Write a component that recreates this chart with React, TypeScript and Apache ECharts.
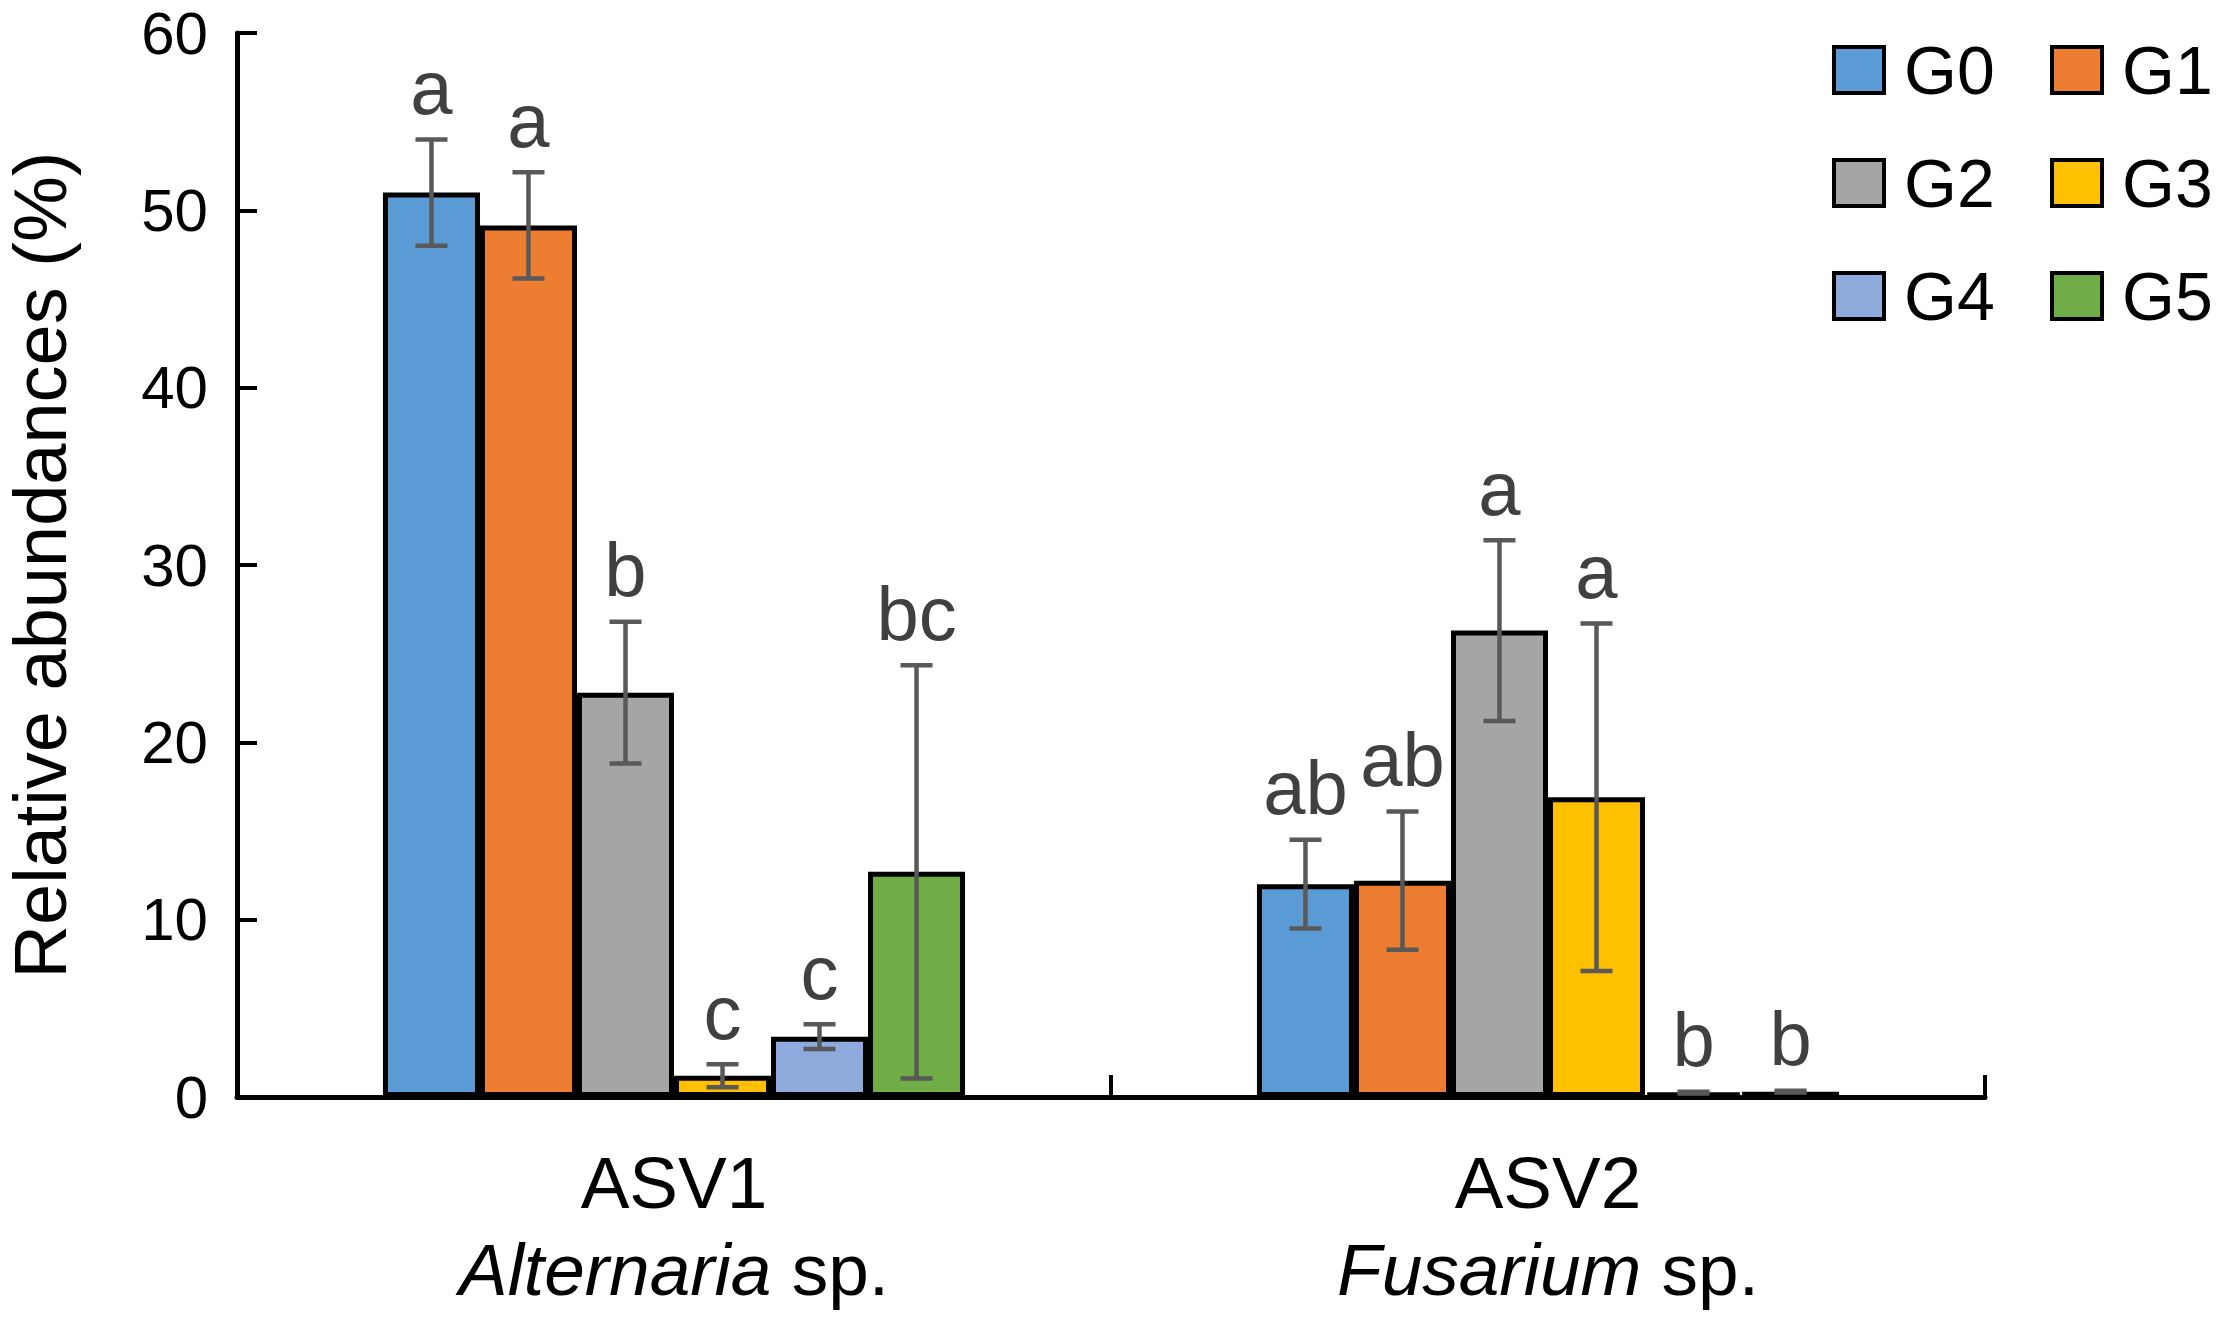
import React, { useEffect, useRef } from "react";
import * as echarts from "echarts";

const categories = ["ASV1", "ASV2"];
const genusNames = ["Alternaria", "Fusarium"];
const groupNames = ["G0", "G1", "G2", "G3", "G4", "G5"];
const groupColors = ["#5B9BD5", "#ED7D31", "#A5A5A5", "#FFC000", "#8FAADC", "#70AD47"];

const g0Values = [51.0, 12.0];
const g1Values = [49.15, 12.2];
const g2Values = [22.8, 26.3];
const g3Values = [1.2, 16.9];
const g4Values = [3.4, 0.25];
const g5Values = [12.7, 0.3];

const g0Errors = [3.0, 2.5];
const g1Errors = [3.0, 3.9];
const g2Errors = [4.0, 5.1];
const g3Errors = [0.65, 9.8];
const g4Errors = [0.7, 0.05];
const g5Errors = [11.65, 0.05];

const g0Letters = ["a", "ab"];
const g1Letters = ["a", "ab"];
const g2Letters = ["b", "a"];
const g3Letters = ["c", "a"];
const g4Letters = ["c", "b"];
const g5Letters = ["bc", "b"];

const yTicks = { min: 0, max: 60, interval: 10 };

const allValues = [g0Values, g1Values, g2Values, g3Values, g4Values, g5Values];
const allErrors = [g0Errors, g1Errors, g2Errors, g3Errors, g4Errors, g5Errors];
const allLetters = [g0Letters, g1Letters, g2Letters, g3Letters, g4Letters, g5Letters];

const FONT = '"Liberation Sans", Arial, sans-serif';
const CAT_GAP = 0.334;

export default function App() {
  const ref = useRef<HTMLDivElement>(null);

  useEffect(() => {
    if (!ref.current) return;
    const chart = echarts.init(ref.current, null, { renderer: "svg" });

    const barSeries = groupNames.map((name, g) => ({
      name,
      type: "bar",
      data: allValues[g],
      barGap: "0%",
      barCategoryGap: (CAT_GAP * 100).toFixed(1) + "%",
      itemStyle: { color: groupColors[g], borderColor: "#000", borderWidth: 5 },
      z: 2,
    }));

    const errSeries = groupNames.map((name, g) => ({
      name: name + " error",
      type: "custom",
      z: 5,
      data: categories.map((_, i) => [i, allValues[g][i], allErrors[g][i]]),
      encode: { x: 0, y: 1 },
      renderItem: (params: any, api: any) => {
        const ci = api.value(0);
        const v = api.value(1);
        const e = api.value(2);
        const band = api.size([1, 0])[0];
        const bw = (band * (1 - CAT_GAP)) / groupNames.length;
        const cx = api.coord([ci, 0])[0] + (g - (groupNames.length - 1) / 2) * bw;
        const top = api.coord([ci, v + e])[1];
        const bot = api.coord([ci, Math.max(0, v - e)])[1];
        const half = 16;
        const stroke = { stroke: "#595959", lineWidth: 4.5 };
        return {
          type: "group",
          children: [
            { type: "line", shape: { x1: cx, y1: top, x2: cx, y2: bot }, style: stroke },
            { type: "line", shape: { x1: cx - half, y1: top, x2: cx + half, y2: top }, style: stroke },
            { type: "line", shape: { x1: cx - half, y1: bot, x2: cx + half, y2: bot }, style: stroke },
            {
              type: "text",
              style: {
                text: allLetters[g][ci],
                x: cx,
                y: top - 14,
                align: "center",
                verticalAlign: "bottom",
                fill: "#404040",
                fontSize: 76,
                fontFamily: FONT,
              },
            },
          ],
        };
      },
    }));

    chart.setOption({
      animation: false,
      backgroundColor: "#ffffff",
      grid: { left: 237, right: 232, top: 33, bottom: 223, containLabel: false, outerBoundsMode: "none" },
      legend: {
        data: groupNames,
        left: 1832,
        top: 36,
        width: 400,
        orient: "horizontal",
        padding: 0,
        itemWidth: 50,
        itemHeight: 46,
        itemGap: 45,
        icon: "rect",
        itemStyle: { borderColor: "#000", borderWidth: 4 },
        textStyle: {
          fontSize: 68,
          fontFamily: FONT,
          color: "#000",
          lineHeight: 60,
          width: 101,
          padding: [0, 0, 0, 15],
        },
      },
      xAxis: {
        type: "category",
        data: categories,
        boundaryGap: true,
        axisLine: { show: true, lineStyle: { color: "#000", width: 5 } },
        axisTick: { show: true, interval: 0, inside: true, length: 22, lineStyle: { color: "#000", width: 4 } },
        axisLabel: {
          interval: 0,
          margin: 42,
          formatter: (val: string, idx: number) => `{n|${val}}\n{i|${genusNames[idx]}}{r| sp.}`,
          rich: {
            n: { fontSize: 73, fontFamily: FONT, color: "#000", lineHeight: 87 },
            i: { fontSize: 73, fontFamily: FONT, color: "#000", lineHeight: 87, fontStyle: "italic" },
            r: { fontSize: 73, fontFamily: FONT, color: "#000", lineHeight: 87 },
          },
        },
        splitLine: { show: false },
      },
      yAxis: {
        type: "value",
        min: yTicks.min,
        max: yTicks.max,
        interval: yTicks.interval,
        name: "Relative abundances (%)",
        nameLocation: "middle",
        nameGap: 160,
        nameRotate: 90,
        nameTextStyle: { fontSize: 74, fontFamily: FONT, color: "#000" },
        axisLine: { show: true, lineStyle: { color: "#000", width: 5 } },
        axisTick: { show: true, inside: true, length: 20, lineStyle: { color: "#000", width: 4 } },
        axisLabel: { fontSize: 60, lineHeight: 52, fontFamily: FONT, color: "#000", margin: 29 },
        splitLine: { show: false },
      },
      series: [...barSeries, ...errSeries],
    });

    return () => chart.dispose();
  }, []);

  return (
    <div
      ref={ref}
      style={{ position: "absolute", left: 0, top: 0, width: 2217, height: 1320, background: "#fff" }}
    />
  );
}
